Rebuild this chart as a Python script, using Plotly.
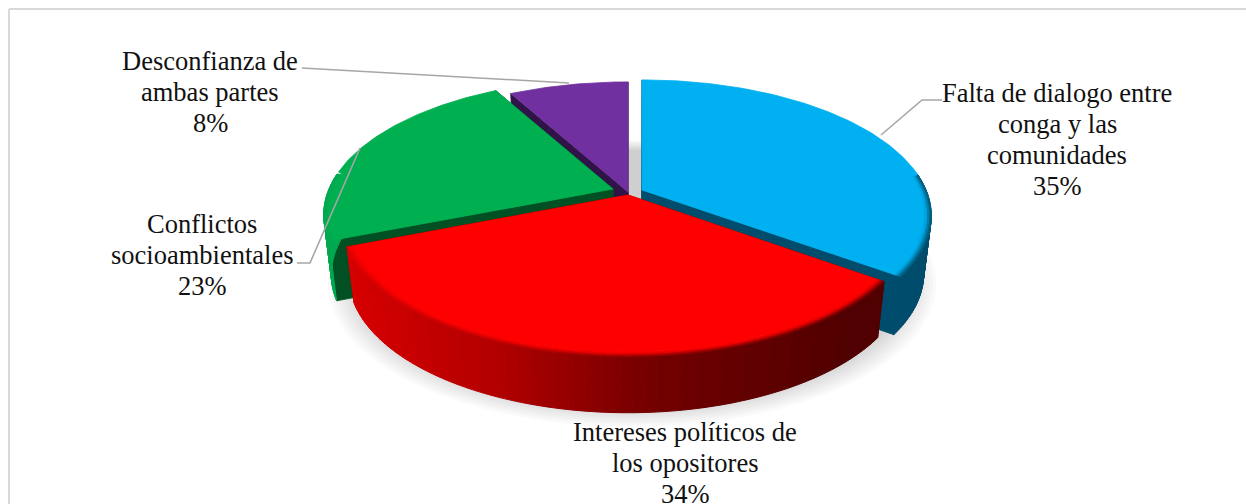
import math
import plotly.graph_objects as go

# ---- data ----
categories = ["Falta de dialogo entre<br>conga y las<br>comunidades",
              "Intereses políticos de<br>los opositores",
              "Conflictos<br>socioambientales",
              "Desconfianza de<br>ambas partes"]
values = [35, 34, 23, 8]

# ---- styles and layout ----
face_colors = [(0, 176, 240), (255, 0, 0), (0, 176, 80), (112, 48, 160)]
wall_colors = [(0, 75, 107), (90, 0, 0), (0, 80, 36), (47, 21, 71)]
apexes = [(642, 190), (628, 195), (613, 189), (628, 192)]
width_scale = [1.0, 0.99, 1.0, 1.0]
depths = [58, 56, 60, 58]
label_pos = [(1057, 93), (685, 432), (202, 224), (210, 61)]
LINE_STEP = 31
leaders = [([942, 922, 881], [100, 100, 135]),
           ([297, 310, 360], [263, 263, 148]),
           ([302, 569], [68, 83])]
A, B, K = 284, 131, 0.19      # projection of the tilted disc
SHRINK = 0.975
SEG_DEG = 1
FACING = -0.12                # rim parts with a larger forward component show a side
FONT_SIZE = 26.5


def proj(apex, theta, r=1.0, ws=1.0):
    u, v = r * math.sin(theta), -r * math.cos(theta)
    s = 1 / (1 - K * v)
    return apex[0] + A * ws * u * s, apex[1] + B * v * s


def drop(p, depth):
    return 628 + (p[0] - 628) * SHRINK, p[1] + depth


def rgb(c):
    return "rgb(%d,%d,%d)" % tuple(int(round(x / 4) * 4) if x < 252 else int(x) for x in c)


def blend(a, b, t):
    return tuple(x + (y - x) * t for x, y in zip(a, b))


fig = go.Figure()


def poly(pts, color, opacity=None):
    xs = [p[0] for p in pts] + [pts[0][0]]
    ys = [p[1] for p in pts] + [pts[0][1]]
    if opacity is None:
        fig.add_trace(go.Scatter(x=xs, y=ys, mode="lines", fill="toself", fillcolor=color,
                                 line=dict(color=color, width=0.8), hoverinfo="skip", showlegend=False))
    else:
        fig.add_trace(go.Scatter(x=xs, y=ys, mode="lines", fill="toself",
                                 fillcolor="rgba(%d,%d,%d,%g)" % (*color, opacity),
                                 line=dict(width=0), hoverinfo="skip", showlegend=False))


def flush(groups):
    """Draw polygons of one layer, one trace per colour."""
    for color, polys in groups.items():
        xs, ys = [], []
        for pts in polys:
            xs += [p[0] for p in pts] + [pts[0][0], None]
            ys += [p[1] for p in pts] + [pts[0][1], None]
        fig.add_trace(go.Scatter(x=xs, y=ys, mode="lines", fill="toself", fillcolor=color,
                                 line=dict(color=color, width=1), hoverinfo="skip", showlegend=False))


def side_color(i, x):
    if i == 1:
        t = min(1, max(0, (x - 350) / 500))
        stops = [(0, (214, 0, 0)), (.3, (176, 0, 0)), (.6, (115, 0, 0)), (1, (80, 0, 0))]
        for (t0, c0), (t1, c1) in zip(stops, stops[1:]):
            if t <= t1:
                return blend(c0, c1, (t - t0) / (t1 - t0))
    if i == 2:
        return (0, 168, 78)
    return wall_colors[i]


# soft shadow under the whole pie
for j in range(10):
    r = 1.05 - j * 0.012
    pts = [proj((632, 255), math.radians(d), r) for d in range(0, 360, 4)]
    poly(pts, (60, 60, 60), 0.028)

# slice angles from the values
total = sum(values)
starts, acc = [], 0
for val in values:
    starts.append(acc / total * 2 * math.pi)
    acc += val
ends = starts[1:] + [2 * math.pi]

for i in [3, 0, 2, 1]:
    ap, ws, depth = apexes[i], width_scale[i], depths[i]
    n = max(2, int(math.degrees(ends[i] - starts[i]) / SEG_DEG))
    ths = [starts[i] + (ends[i] - starts[i]) * k / n for k in range(n + 1)]
    # cut walls
    for th in (starts[i], ends[i]):
        c = proj(ap, th, 1.0, ws)
        poly([ap, c, drop(c, depth), drop(ap, depth)], rgb(wall_colors[i]))
    # outer side
    groups = {}
    for t0, t1 in zip(ths, ths[1:]):
        p0, p1 = proj(ap, t0, 1.0, ws), proj(ap, t1, 1.0, ws)
        if -math.cos((t0 + t1) / 2) > FACING:
            groups.setdefault(rgb(side_color(i, (p0[0] + p1[0]) / 2)), []).append(
                [p0, p1, drop(p1, depth), drop(p0, depth)])
    flush(groups)
    # bevel rings along the facing rim
    rings = [1.0, 0.992, 0.984, 0.976]
    for ri, (r0, r1) in enumerate(zip(rings, rings[1:])):
        groups = {}
        for t0, t1 in zip(ths, ths[1:]):
            if -math.cos((t0 + t1) / 2) > FACING:
                p0, p1 = proj(ap, t0, r0, ws), proj(ap, t1, r0, ws)
                q0, q1 = proj(ap, t0, r1, ws), proj(ap, t1, r1, ws)
                col = blend(side_color(i, (p0[0] + p1[0]) / 2), face_colors[i], (ri + 0.6) / 3)
                groups.setdefault(rgb(col), []).append([p0, p1, q1, q0])
        flush(groups)
    # top face
    rim = [proj(ap, t, 0.976, ws) if -math.cos(t) > FACING else proj(ap, t, 1.0, ws) for t in ths]
    poly([ap] + rim, "rgb(%d,%d,%d)" % face_colors[i])

for xs, ys in leaders:
    fig.add_trace(go.Scatter(x=xs, y=ys, mode="lines", line=dict(color="#a6a6a6", width=1.6),
                             hoverinfo="skip", showlegend=False))

for cat, val, (x, y) in zip(categories, values, label_pos):
    for k, line in enumerate(cat.split("<br>") + [f"{val}%"]):
        fig.add_annotation(x=x, y=y + k * LINE_STEP, xref="x", yref="y", text=line, showarrow=False,
                           xanchor="center", yanchor="middle", align="center",
                           font=dict(family="Liberation Serif", size=FONT_SIZE, color="#111111"))

fig.add_shape(type="line", x0=9, x1=9, y0=9, y1=504, line=dict(color="#d9d9d9", width=2))
fig.add_shape(type="line", x0=9, x1=1246, y0=9, y1=9, line=dict(color="#d9d9d9", width=2))

fig.update_layout(width=1246, height=504, autosize=False, margin=dict(l=0, r=0, t=0, b=0),
                  paper_bgcolor="white", plot_bgcolor="white", showlegend=False,
                  xaxis=dict(range=[0, 1246], visible=False, fixedrange=True),
                  yaxis=dict(range=[504, 0], visible=False, fixedrange=True))
fig.write_html("out.html", config={"displayModeBar": False}, default_width="1246px", default_height="504px",
               post_script="document.body.style.margin='0';document.body.style.overflow='hidden';")
